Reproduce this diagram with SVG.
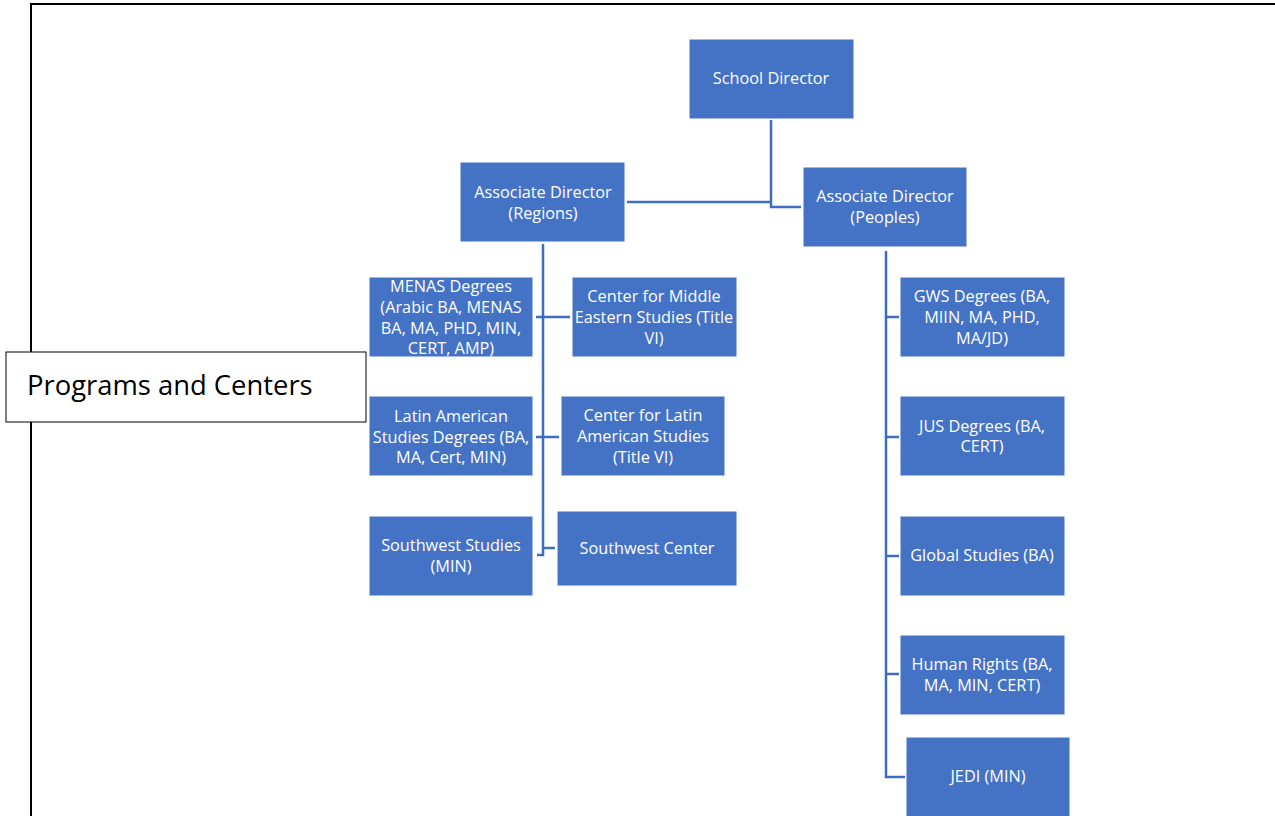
<svg xmlns="http://www.w3.org/2000/svg" width="1275" height="816" viewBox="0 0 1275 816">
<style>
.box{fill:#4472C4;stroke:#ffffff;stroke-width:1}
.t{font-family:"Open Sans",Lato,"Liberation Sans",sans-serif;font-size:16.3px;fill:#ffffff;text-anchor:middle;dominant-baseline:central}
.c{fill:none;stroke:#3E6CBF;stroke-width:2.5}
</style>
<rect x="0" y="0" width="1275" height="816" fill="#ffffff"/>
<path d="M31,816 V4 H1275" fill="none" stroke="#000" stroke-width="2"/>
<g id="connectors">
<path class="c" d="M771,120 V207 H801"/>
<path class="c" d="M627,202 H771"/>
<path class="c" d="M543,244 V555 H537"/>
<path class="c" d="M536,317 H570"/>
<path class="c" d="M536,437 H559"/>
<path class="c" d="M543,548 H555"/>
<path class="c" d="M886,251 V777 H905"/>
<path class="c" d="M886,317 H899"/>
<path class="c" d="M886,437 H899"/>
<path class="c" d="M886,556 H899"/>
<path class="c" d="M886,674 H899"/>
</g>
<g id="school-director"><rect class="box" x="689" y="39" width="165" height="80"/><text class="t" x="771" y="78">School Director</text></g>
<g id="ad-regions"><rect class="box" x="460" y="162" width="165" height="80"/><text class="t" x="543" y="192">Associate Director</text><text class="t" x="543" y="213">(Regions)</text></g>
<g id="ad-peoples"><rect class="box" x="803" y="167" width="164" height="80"/><text class="t" x="885" y="196">Associate Director</text><text class="t" x="885" y="217">(Peoples)</text></g>
<g id="menas"><rect class="box" x="369" y="277" width="164" height="80"/><text class="t" x="451" y="286">MENAS Degrees</text><text class="t" x="451" y="307">(Arabic BA, MENAS</text><text class="t" x="451" y="328">BA, MA, PHD, MIN,</text><text class="t" x="451" y="348">CERT, AMP)</text></g>
<g id="cmes"><rect class="box" x="572" y="277" width="165" height="80"/><text class="t" x="654" y="296">Center for Middle</text><text class="t" x="654" y="317">Eastern Studies (Title</text><text class="t" x="654" y="338">VI)</text></g>
<g id="las"><rect class="box" x="369" y="396" width="164" height="80"/><text class="t" x="451" y="416">Latin American</text><text class="t" x="451" y="437">Studies Degrees (BA,</text><text class="t" x="451" y="457">MA, Cert, MIN)</text></g>
<g id="clas"><rect class="box" x="561" y="396" width="164" height="80"/><text class="t" x="643" y="415">Center for Latin</text><text class="t" x="643" y="436">American Studies</text><text class="t" x="643" y="457">(Title VI)</text></g>
<g id="sws"><rect class="box" x="369" y="516" width="164" height="80"/><text class="t" x="451" y="545">Southwest Studies</text><text class="t" x="451" y="566">(MIN)</text></g>
<g id="swc"><rect class="box" x="557" y="511" width="180" height="75"/><text class="t" x="647" y="548">Southwest Center</text></g>
<g id="gws"><rect class="box" x="900" y="277" width="165" height="80"/><text class="t" x="982" y="296">GWS Degrees (BA,</text><text class="t" x="982" y="317">MIIN, MA, PHD,</text><text class="t" x="982" y="338">MA/JD)</text></g>
<g id="jus"><rect class="box" x="900" y="396" width="165" height="80"/><text class="t" x="982" y="426">JUS Degrees (BA,</text><text class="t" x="982" y="446">CERT)</text></g>
<g id="global"><rect class="box" x="900" y="516" width="165" height="80"/><text class="t" x="982" y="555">Global Studies (BA)</text></g>
<g id="hr"><rect class="box" x="900" y="635" width="165" height="80"/><text class="t" x="982" y="664">Human Rights (BA,</text><text class="t" x="982" y="685">MA, MIN, CERT)</text></g>
<g id="jedi"><rect class="box" x="906" y="737" width="164" height="85"/><text class="t" x="988" y="776">JEDI (MIN)</text></g>
<g id="programs-centers"><rect x="6" y="352" width="360" height="70" fill="#ffffff" stroke="#000" stroke-width="1"/><text x="27" y="384" font-family="'Open Sans',Lato,'Liberation Sans',sans-serif" font-size="27.4" fill="#000" dominant-baseline="central">Programs and Centers</text></g>
</svg>
